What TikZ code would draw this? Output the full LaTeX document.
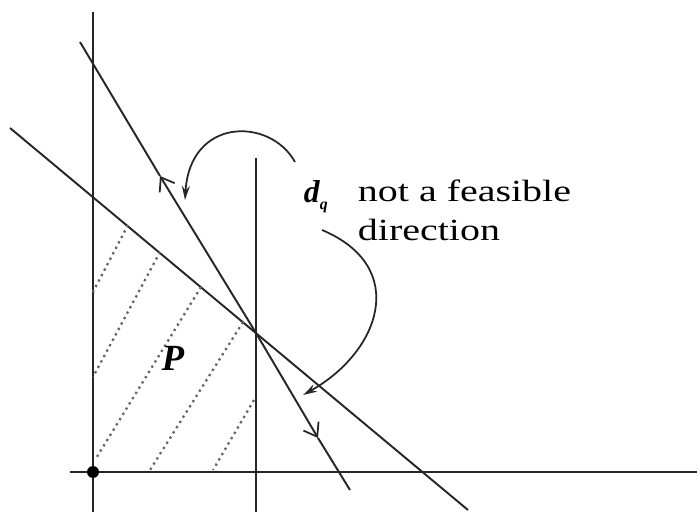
\documentclass[tikz,border=0pt]{standalone}
\usepackage{fontspec}
\setmainfont{Liberation Serif}
\newfontfamily\widefont[FakeStretch=1.3]{Liberation Serif}
\usetikzlibrary{arrows.meta}

\begin{document}
\begin{tikzpicture}[line width=1.1pt,draw=black!85]
  \tikzstyle{hatch}=[black!60,line width=1.3pt,dash pattern=on 1.3pt off 2.2pt]
  \tikzstyle{dirarrow}=[-{Straight Barb[length=7pt,width=10pt,line width=1pt]}]
  \tikzstyle{curvearrow}=[line width=1pt,-{Stealth[length=8pt,width=4.5pt]}]
  \useasboundingbox (0,0) rectangle (13.96,10.24);
  % axes and constraint lines
  \coordinate (O) at (1.86,0.80);
  \coordinate (Ytop) at (1.86,10.00);
  \coordinate (Ybot) at (1.86,0);
  \coordinate (Xl) at (1.40,0.80);
  \coordinate (Xr) at (13.94,0.80);
  \coordinate (Vt) at (5.12,7.08);
  \coordinate (Vb) at (5.12,0);
  \coordinate (La) at (0.20,7.68);
  \coordinate (Lb) at (9.36,0.04);
  \coordinate (Sa) at (1.60,9.40);
  \coordinate (Sb) at (7.00,0.44);
  \coordinate (X) at (5.12,3.58);
  \coordinate (U) at (3.20,6.72);
  \coordinate (D) at (6.36,1.48);
  \draw (Ybot) -- (Ytop);
  \draw (Xl) -- (Xr);
  \draw (Vb) -- (Vt);
  \draw (La) -- (Lb);
  \draw[dirarrow] (X) -- (U);
  \draw (U) -- (Sa);
  \draw[dirarrow] (X) -- (D);
  \draw (D) -- (Sb);
  \fill (O) circle (0.12);
  % hatching of P
  \draw[hatch] (2.56,5.74) -- (1.86,4.40);
  \draw[hatch] (3.20,5.20) -- (1.86,2.70);
  \draw[hatch] (4.02,4.50) -- (1.90,1.04);
  \draw[hatch] (4.86,3.80) -- (3.00,0.84);
  \draw[hatch] (5.08,2.24) -- (4.26,0.84);
  \node (P) at (3.46,3.08) {\fontsize{21}{24}\selectfont\bfseries\itshape P};
  % label and bent arrows
  \node[anchor=base west,inner sep=0pt] (dq) at (6.06,6.18)
    {\fontsize{18}{22}\selectfont\bfseries\itshape d\raisebox{-0.2em}{\fontsize{9}{9}\selectfont q}};
  \node[anchor=base west,inner sep=0pt,align=left,
        font=\fontsize{17.5}{22.5}\selectfont\widefont] (txt) at (7.14,5.42)
    {not a feasible\\ direction};
  \coordinate (A1) at (5.90,7.00);
  \coordinate (A2) at (3.70,6.24);
  \coordinate (B1) at (6.44,5.64);
  \coordinate (B2) at (6.06,2.34);
  \draw[curvearrow] (A1) .. controls (5.4,7.9) and (3.8,7.9) .. (A2);
  \draw[curvearrow] (B1) .. controls (8.2,4.9) and (7.6,3.2) .. (B2);
\end{tikzpicture}
\end{document}
